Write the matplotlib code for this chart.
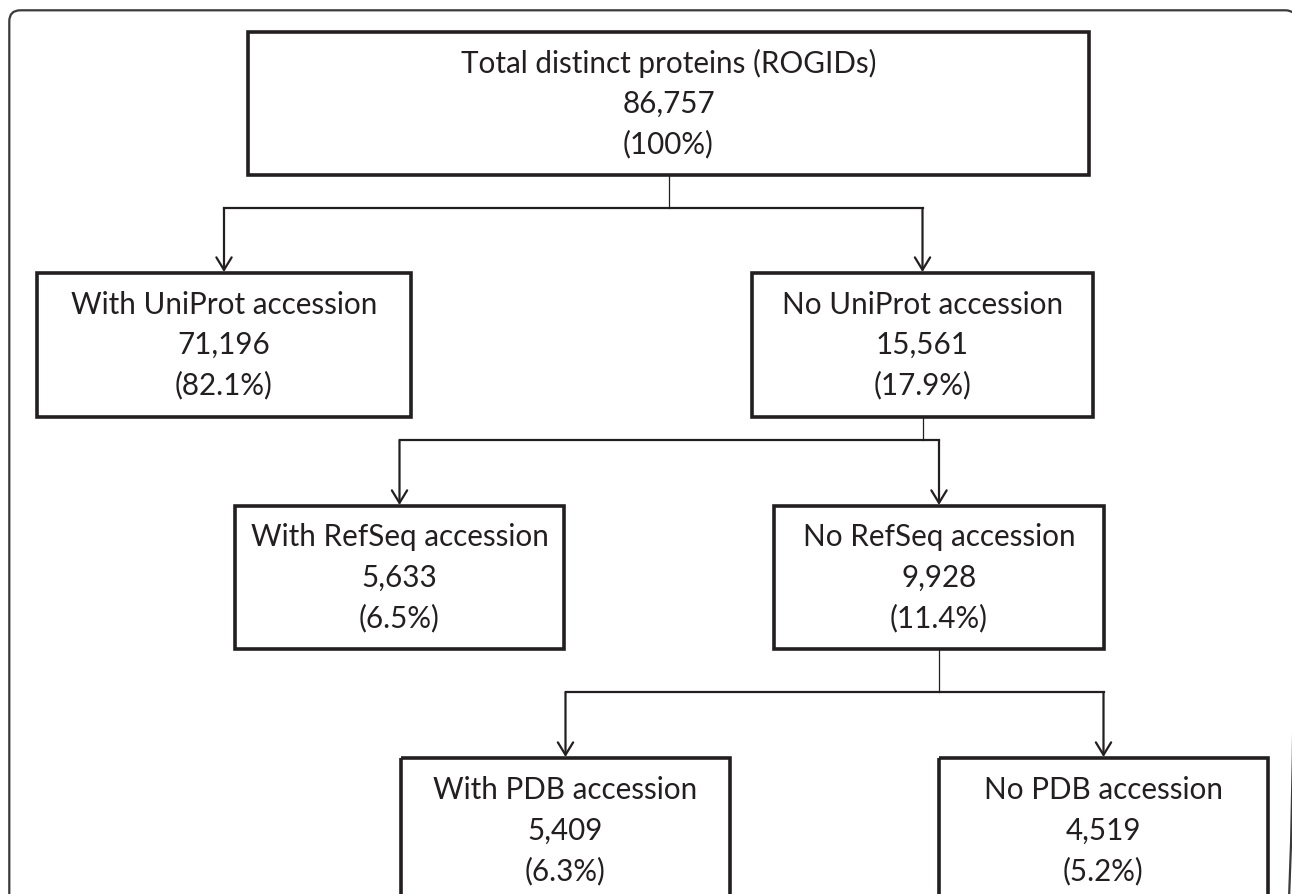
import matplotlib
matplotlib.use("Agg")
import matplotlib.pyplot as plt
from matplotlib.patches import Rectangle, FancyBboxPatch

# ---- data ----
labels = ["Total distinct proteins (ROGIDs)", "With UniProt accession", "No UniProt accession",
          "With RefSeq accession", "No RefSeq accession", "With PDB accession", "No PDB accession"]
counts = [86757, 71196, 15561, 5633, 9928, 5409, 4519]
percents = ["100%", "82.1%", "17.9%", "6.5%", "11.4%", "6.3%", "5.2%"]
parents = [None, 0, 0, 2, 2, 4, 4]

# ---- layout (pixel coordinates) ----
box_x0 = [248, 37, 752, 235, 774, 401, 939]
box_x1 = [1089, 411, 1093, 564, 1104, 730, 1268]
box_y0 = [32, 273, 273, 506, 506, 758, 758]
box_y1 = [175, 417, 417, 649, 649, 903, 903]
bus_y = {0: 208, 2: 440, 4: 692}

W, H = 1292, 894
ink = "#231f20"
fig = plt.figure(figsize=(W / 100, H / 100), dpi=100)
ax = fig.add_axes([0, 0, 1, 1])
ax.set_xlim(0, W)
ax.set_ylim(H, 0)
ax.axis("off")

# outer rounded frame
ax.add_patch(FancyBboxPatch((9.3, 10.3), 1287, 920, boxstyle="round,pad=0,rounding_size=11",
                            lw=1.6, ec="#3a3a3a", fc="none"))

font = "Lato"
# fit font size so that a reference label has target width
probe = ax.text(0, 0, "No UniProt accession", fontsize=20, family=font)
fig.canvas.draw()
w = probe.get_window_extent().width
probe.remove()
fs = 20 * 281.0 / w

line_gap = 40.5
for i, lab in enumerate(labels):
    x0, x1, y0, y1 = box_x0[i], box_x1[i], box_y0[i], box_y1[i]
    ax.add_patch(Rectangle((x0, y0), x1 - x0, y1 - y0, fill=False, lw=2.6, ec=ink,
                           joinstyle="miter", zorder=3))
    cx = (x0 + x1) / 2
    cy = (y0 + y1) / 2
    lines = [lab, f"{counts[i]:,}", f"({percents[i]})"]
    for k, t in enumerate(lines):
        ax.text(cx, cy + (k - 1) * line_gap, t, ha="center", va="center",
                fontsize=fs, family=font, color=ink, zorder=4)

# connectors
for p, by in bus_y.items():
    kids = [i for i, q in enumerate(parents) if q == p]
    pcx = (box_x0[p] + box_x1[p]) / 2
    ax.plot([pcx, pcx], [box_y1[p], by], color=ink, lw=0.9, zorder=2)
    kcx = [(box_x0[k] + box_x1[k]) / 2 for k in kids]
    ax.plot([min(kcx), max(kcx)], [by, by], color=ink, lw=1.6,
            solid_capstyle="projecting", zorder=2)
    for k, c in zip(kids, kcx):
        ax.annotate("", xy=(c, box_y0[k] - 1), xytext=(c, by),
                    arrowprops=dict(arrowstyle="->,head_length=0.9,head_width=0.55",
                                    lw=1.6, color=ink, shrinkA=0, shrinkB=0,
                                    mutation_scale=10), zorder=2)

fig.savefig("out.png", dpi=100)
